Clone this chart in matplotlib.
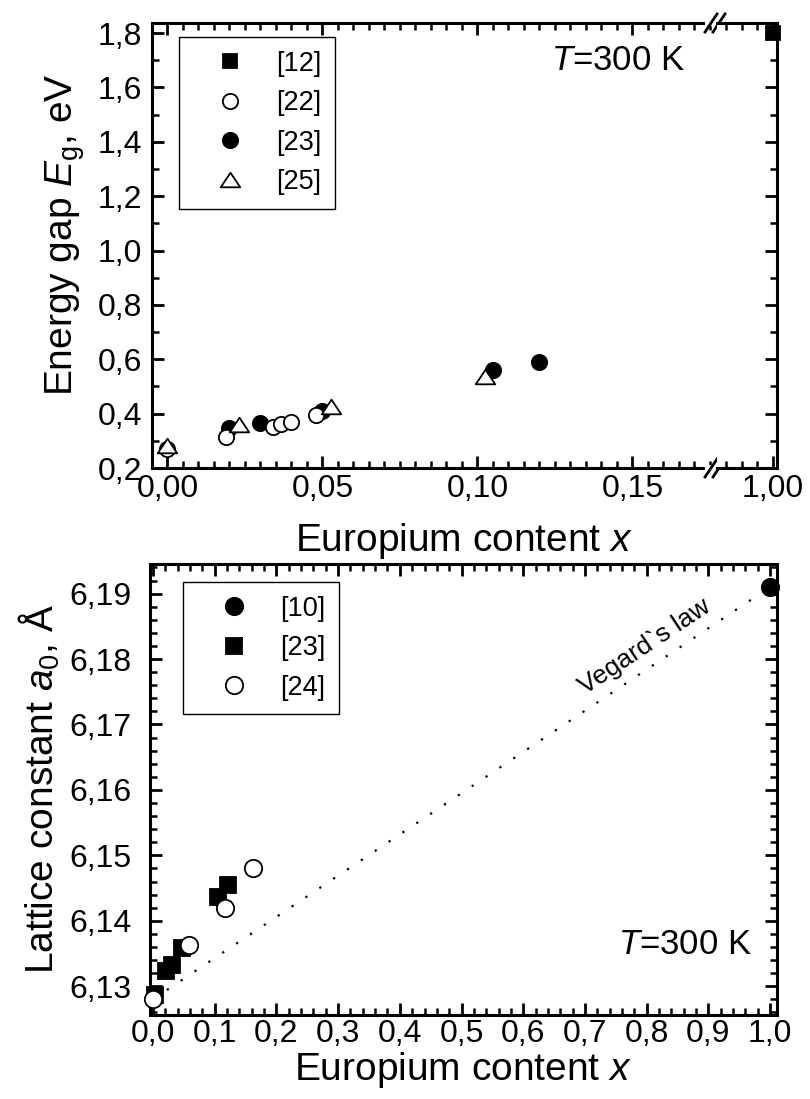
import numpy as np
import matplotlib
matplotlib.use("Agg")
import matplotlib.pyplot as plt
from matplotlib.ticker import MultipleLocator, FixedLocator, FuncFormatter
from matplotlib.path import Path

plt.rcParams['font.family'] = ['Liberation Sans', 'DejaVu Sans']
plt.rcParams['mathtext.fontset'] = 'custom'
plt.rcParams['mathtext.rm'] = 'Liberation Sans'
plt.rcParams['mathtext.it'] = 'Liberation Sans:italic'
plt.rcParams['mathtext.bf'] = 'Liberation Sans:bold'

# ---------------- data: top panel (energy gap) ----------------
ref12_x = [1.00]
ref12_y = [1.80]
ref22_x = [0.000, 0.019, 0.034, 0.0365, 0.040, 0.048]
ref22_y = [0.270, 0.315, 0.352, 0.362, 0.370, 0.395]
ref23_x = [0.020, 0.030, 0.050, 0.105, 0.120]
ref23_y = [0.346, 0.367, 0.411, 0.560, 0.589]
ref25_x = [0.000, 0.023, 0.0526, 0.1026]
ref25_y = [0.280, 0.358, 0.423, 0.536]

# ---------------- data: bottom panel (lattice constant) ----------------
ref10_x = [1.00]
ref10_y = [6.191]
ref23b_x = [0.003, 0.021, 0.030, 0.0465, 0.106, 0.121]
ref23b_y = [6.1286, 6.1324, 6.1332, 6.1358, 6.1437, 6.1454]
ref24_x = [0.000, 0.059, 0.117, 0.162]
ref24_y = [6.1281, 6.1363, 6.1420, 6.1480]
vegard_x = [0.0, 1.0]
vegard_y = [6.128, 6.191]

FIG_W, FIG_H = 810, 1099
fig = plt.figure(figsize=(FIG_W / 100, FIG_H / 100), dpi=100)

def rect(l, t, r, b):
    return [l / FIG_W, 1 - b / FIG_H, (r - l) / FIG_W, (b - t) / FIG_H]

TICK_FS = 23
LABEL_FS = 28
LEG_FS = 19.5
SPINE_LW = 2.2

comma2 = FuncFormatter(lambda v, p: f'{v:.2f}'.replace('.', ','))
comma1 = FuncFormatter(lambda v, p: f'{v:.1f}'.replace('.', ','))

tri_path = Path([(-1, -0.7), (1, -0.7), (0, 0.8), (-1, -0.7)],
                [Path.MOVETO, Path.LINETO, Path.LINETO, Path.CLOSEPOLY])

def style_axis(ax):
    for s in ax.spines.values():
        s.set_linewidth(SPINE_LW)
    ax.tick_params(which='major', direction='in', length=8.5, width=2.0,
                   labelsize=TICK_FS)
    ax.tick_params(which='minor', direction='in', length=4.8, width=1.8)

LEG_KW = dict(borderaxespad=0, fontsize=LEG_FS, numpoints=1,
              handlelength=2.8, handletextpad=0.3, borderpad=0.5,
              labelspacing=0.5, fancybox=False, edgecolor='black',
              framealpha=1)

# ---------------- top panel: broken x axis ----------------
axL = fig.add_axes(rect(152, 23, 717, 468))
axR = fig.add_axes(rect(717, 23, 777, 468), sharey=axL)
segments = [(axL, -0.005, 0.1773), (axR, 0.982, 1.0013)]

top_series = [
    (ref23_x, ref23_y, dict(marker='o', mfc='black', mec='black'), '[23]', 3),
    (ref22_x, ref22_y, dict(marker='o', mfc='white', mec='black'), '[22]', 4),
    (ref25_x, ref25_y, dict(marker=tri_path, mfc='white', mec='black'), '[25]', 5),
    (ref12_x, ref12_y, dict(marker='s', mfc='black', mec='black'), '[12]', 6),
]
ms_top = {'[23]': 11, '[22]': 11, '[25]': 14, '[12]': 10.5}
handles = {}
for x, y, kw, lab, z in top_series:
    x = np.asarray(x); y = np.asarray(y)
    for ax, lo, hi in segments:
        m = (x >= lo) & (x <= hi)
        if m.any():
            ln, = ax.plot(x[m], y[m], ls='none', ms=ms_top[lab], mew=1.3,
                          zorder=z, clip_on=False, **kw)
            handles[lab] = ln

for ax, lo, hi in segments:
    ax.set_xlim(lo, hi)
    style_axis(ax)
axL.set_ylim(0.2, 1.837)
axL.yaxis.set_major_locator(MultipleLocator(0.2))
axL.yaxis.set_minor_locator(MultipleLocator(0.1))
axL.yaxis.set_major_formatter(comma1)
axL.xaxis.set_major_locator(MultipleLocator(0.05))
axL.xaxis.set_minor_locator(MultipleLocator(0.005))
axL.xaxis.set_major_formatter(comma2)
axL.spines['right'].set_visible(False)
axL.tick_params(which='both', top=True, bottom=True, left=True, right=False)
axL.tick_params(axis='x', which='major', pad=4)
axL.tick_params(axis='y', which='major', pad=7)

axR.xaxis.set_major_locator(FixedLocator([1.00]))
axR.xaxis.set_minor_locator(FixedLocator([0.985, 0.990, 0.995]))
axR.xaxis.set_major_formatter(comma2)
axR.spines['left'].set_visible(False)
axR.tick_params(which='both', top=True, bottom=True, left=False, right=True,
                labelleft=False)
axR.tick_params(axis='x', which='major', pad=4)

# break marks
for yb in (0.0, 1.0):
    axL.plot([0.9894 - 0.011, 1.0035 + 0.011], [yb, yb], transform=axL.transAxes,
             color='white', lw=4, clip_on=False, zorder=10, solid_capstyle='butt')
    for xc in (0.9894, 1.0035):
        axL.plot([xc - 0.0106, xc + 0.0106], [yb - 0.0202, yb + 0.0202],
                 transform=axL.transAxes, color='black', lw=2.0,
                 clip_on=False, zorder=11)

axL.set_xlabel(r'Europium content $x$', fontsize=LABEL_FS, labelpad=2)
axL.xaxis.set_label_coords((777 - 152) / 2 / 565, -0.12)
axL.set_ylabel(r'Energy gap $E_\mathrm{g}$, eV', fontsize=LABEL_FS, labelpad=8)
axL.yaxis.label.set_y(0.524)

axL.text(0.943, 0.915, r'$T$=300 K', transform=axL.transAxes, fontsize=25,
         ha='right', va='center')

leg1 = axL.legend([handles[k] for k in ['[12]', '[22]', '[23]', '[25]']],
                  ['[12]', '[22]', '[23]', '[25]'],
                  loc='upper left', bbox_to_anchor=(0.0478, 0.9685), **LEG_KW)
leg1.get_frame().set_linewidth(1.0)

# ---------------- bottom panel ----------------
ax2 = fig.add_axes(rect(150, 563.5, 777, 1015))
ax2.plot(vegard_x, vegard_y, color='black', lw=1.6, ls=(0, (1, 6.5)), zorder=1)
h10, = ax2.plot(ref10_x, ref10_y, ls='none', marker='o', mfc='black', mec='black',
                ms=12.5, mew=1.3, zorder=3, clip_on=False)
h23, = ax2.plot(ref23b_x, ref23b_y, ls='none', marker='s', mfc='black',
                mec='black', ms=11, mew=1.3, zorder=3, clip_on=False)
h24, = ax2.plot(ref24_x, ref24_y, ls='none', marker='o', mfc='white',
                mec='black', ms=12.5, mew=1.3, zorder=4, clip_on=False)

ax2.set_xlim(-0.0049, 1.0113)
ax2.set_ylim(6.1256, 6.1946)
style_axis(ax2)
ax2.tick_params(which='both', top=True, bottom=True, left=True, right=True)
ax2.tick_params(axis='x', which='major', pad=3)
ax2.tick_params(axis='y', which='major', pad=13)
ax2.xaxis.set_major_locator(MultipleLocator(0.1))
ax2.xaxis.set_minor_locator(MultipleLocator(0.02))
ax2.xaxis.set_major_formatter(comma1)
ax2.yaxis.set_major_locator(MultipleLocator(0.01))
ax2.yaxis.set_minor_locator(MultipleLocator(0.002))
ax2.yaxis.set_major_formatter(comma2)

ax2.set_xlabel(r'Europium content $x$', fontsize=LABEL_FS)
ax2.xaxis.set_label_coords(0.5, -0.078)
ax2.set_ylabel(r'Lattice constant $a_0$, Å', fontsize=LABEL_FS)
ax2.yaxis.set_label_coords(-0.140, 0.5)

ax2.text(0.960, 0.157, r'$T$=300 K', transform=ax2.transAxes, fontsize=25,
         ha='right', va='center')

# Vegard's law label along the line
p0 = ax2.transData.transform((vegard_x[0], vegard_y[0]))
p1 = ax2.transData.transform((vegard_x[1], vegard_y[1]))
ang = np.degrees(np.arctan2(p1[1] - p0[1], p1[0] - p0[0]))
xv = 0.815
yv = vegard_y[0] + (vegard_y[1] - vegard_y[0]) * xv
ax2.annotate("Vegard`s law", xy=(xv, yv), xytext=(-3, 5),
             textcoords='offset points', rotation=ang, rotation_mode='anchor',
             ha='center', va='bottom', fontsize=19)

leg2 = ax2.legend([h10, h23, h24], ['[10]', '[23]', '[24]'],
                  loc='upper left', bbox_to_anchor=(0.0526, 0.959), **LEG_KW)
leg2.get_frame().set_linewidth(1.0)

fig.savefig('out.png', dpi=100)
